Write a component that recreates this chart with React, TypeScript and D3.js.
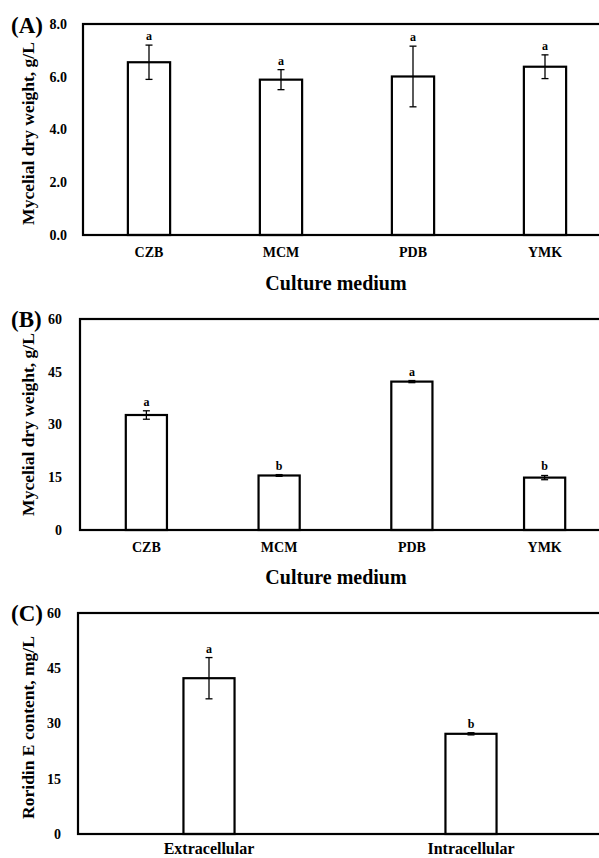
import React from "react";
import * as d3 from "d3";

const mediaA = ["CZB", "MCM", "PDB", "YMK"];
const meanA = [6.55, 5.89, 6.01, 6.38];
const errA = [0.65, 0.38, 1.15, 0.45];
const letterA = ["a", "a", "a", "a"];
const ticksA = [0, 2, 4, 6, 8];

const mediaB = ["CZB", "MCM", "PDB", "YMK"];
const meanB = [32.7, 15.5, 42.2, 14.9];
const errB = [1.2, 0.25, 0.3, 0.6];
const letterB = ["a", "b", "a", "b"];
const ticksB = [0, 15, 30, 45, 60];

const fractionC = ["Extracellular", "Intracellular"];
const meanC = [42.3, 27.2];
const errC = [5.6, 0.3];
const letterC = ["a", "b"];
const ticksC = [0, 15, 30, 45, 60];

const FONT = "'Liberation Serif', 'Times New Roman', serif";

type PanelProps = {
  label: string;
  cats: string[];
  means: number[];
  errs: number[];
  letters: string[];
  ticks: number[];
  yMax: number;
  tickFmt: (v: number) => string;
  left: number;
  right: number;
  top: number;
  bottom: number;
  barRatio: number;
  yTitle: string;
  xTitle?: string;
  xTitleY?: number;
  xTitleX?: number;
  tickLabelGap: number;
  catFont: number;
  catY: number;
  labelY: number;
  yTitleX: number;
  yTitleShift: number;
};

function Panel(p: PanelProps) {
  const x = d3.scaleBand<string>().domain(p.cats).range([p.left, p.right]).padding(0);
  const y = d3.scaleLinear().domain([0, p.yMax]).range([p.bottom, p.top]);
  const bw = x.bandwidth() * p.barRatio;
  return (
    <g>
      <text x={11} y={p.labelY} fontFamily={FONT} fontWeight="bold" fontSize={23}>
        {p.label}
      </text>
      {p.ticks.map((t) => (
        <text
          key={t}
          x={p.left - p.tickLabelGap}
          y={y(t)}
          dy="0.35em"
          textAnchor="end"
          fontFamily={FONT}
          fontWeight="bold"
          fontSize={14}
        >
          {p.tickFmt(t)}
        </text>
      ))}
      <text
        transform={`translate(${p.yTitleX},${(p.top + p.bottom) / 2 + p.yTitleShift}) rotate(-90)`}
        textAnchor="middle"
        fontFamily={FONT}
        fontWeight="bold"
        fontSize={17.5}
      >
        {p.yTitle}
      </text>
      {p.cats.map((c, i) => {
        const cx = (x(c) as number) + x.bandwidth() / 2;
        const top = y(p.means[i]);
        const eTop = y(p.means[i] + p.errs[i]);
        const eBot = y(p.means[i] - p.errs[i]);
        return (
          <g key={c}>
            <rect
              x={cx - bw / 2}
              y={top}
              width={bw}
              height={p.bottom - top}
              fill="#fff"
              stroke="#000"
              strokeWidth={2.2}
            />
            <line x1={cx} x2={cx} y1={eTop} y2={eBot} stroke="#000" strokeWidth={1.3} />
            <line x1={cx - 3.5} x2={cx + 3.5} y1={eTop} y2={eTop} stroke="#000" strokeWidth={1.3} />
            <line x1={cx - 3.5} x2={cx + 3.5} y1={eBot} y2={eBot} stroke="#000" strokeWidth={1.3} />
            <text
              x={cx}
              y={eTop - 5}
              textAnchor="middle"
              fontFamily={FONT}
              fontWeight="bold"
              fontSize={12}
            >
              {p.letters[i]}
            </text>
            <text
              x={cx}
              y={p.catY}
              textAnchor="middle"
              fontFamily={FONT}
              fontWeight="bold"
              fontSize={p.catFont}
            >
              {c}
            </text>
          </g>
        );
      })}
      <rect
        x={p.left}
        y={p.top}
        width={p.right - p.left}
        height={p.bottom - p.top}
        fill="none"
        stroke="#000"
        strokeWidth={2.2}
      />
      {p.xTitle && (
        <text
          x={p.xTitleX}
          y={p.xTitleY}
          textAnchor="middle"
          fontFamily={FONT}
          fontWeight="bold"
          fontSize={20}
        >
          {p.xTitle}
        </text>
      )}
    </g>
  );
}

export default function App() {
  return (
    <svg
      width={599}
      height={858}
      style={{ position: "absolute", left: 0, top: 0, background: "#fff" }}
    >
      <rect x={0} y={0} width={599} height={858} fill="#fff" />
      <Panel
        label="(A)"
        cats={mediaA}
        means={meanA}
        errs={errA}
        letters={letterA}
        ticks={ticksA}
        yMax={8}
        tickFmt={(v) => v.toFixed(1)}
        left={83}
        right={611}
        top={24}
        bottom={235}
        barRatio={0.32}
        yTitle="Mycelial dry weight, g/L"
        xTitle="Culture medium"
        xTitleX={336}
        xTitleY={290}
        tickLabelGap={16}
        catFont={14}
        catY={257}
        labelY={33}
        yTitleX={34}
        yTitleShift={4}
      />
      <Panel
        label="(B)"
        cats={mediaB}
        means={meanB}
        errs={errB}
        letters={letterB}
        ticks={ticksB}
        yMax={60}
        tickFmt={(v) => String(v)}
        left={80}
        right={611}
        top={319}
        bottom={530}
        barRatio={0.31}
        yTitle="Mycelial dry weight, g/L"
        xTitle="Culture medium"
        xTitleX={336}
        xTitleY={584}
        tickLabelGap={18}
        catFont={14}
        catY={552}
        labelY={327}
        yTitleX={34}
        yTitleShift={0}
      />
      <Panel
        label="(C)"
        cats={fractionC}
        means={meanC}
        errs={errC}
        letters={letterC}
        ticks={ticksC}
        yMax={60}
        tickFmt={(v) => String(v)}
        left={78}
        right={602}
        top={613}
        bottom={834}
        barRatio={0.195}
        yTitle="Roridin E content, mg/L"
        tickLabelGap={17}
        catFont={16}
        catY={854}
        labelY={621}
        yTitleX={34}
        yTitleShift={4}
      />
    </svg>
  );
}
